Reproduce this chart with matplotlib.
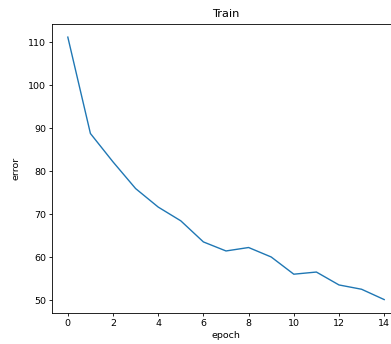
import matplotlib
matplotlib.use("Agg")
import matplotlib.pyplot as plt

# training error per epoch
epochs = list(range(15))
error = [111.2, 88.8, 82.2, 76.0, 71.7, 68.5, 63.6, 61.5, 62.3, 60.1,
         56.1, 56.6, 53.6, 52.6, 50.2]

plt.rcParams['font.family'] = 'DejaVu Sans'
plt.rcParams['axes.linewidth'] = 0.6

fig = plt.figure(figsize=(3.91, 3.44), dpi=100)
# axes run past the right edge, the reference is a crop
ax = fig.add_axes([52/391, 31.3/344, 348/391, 288.7/344])
ax.plot(epochs, error, color='#1f77b4', linewidth=1.0)
ax.set_title('Train', fontsize=8.2, pad=5)
ax.set_xlabel('epoch', fontsize=6.8, labelpad=2)
ax.set_ylabel('error', fontsize=6.8, labelpad=5)
ax.set_xticks([0, 2, 4, 6, 8, 10, 12, 14])
ax.set_yticks([50, 60, 70, 80, 90, 100, 110])
ax.tick_params(labelsize=6.8, length=2.4, width=0.6, pad=2)

fig.savefig('out.png', dpi=100)
